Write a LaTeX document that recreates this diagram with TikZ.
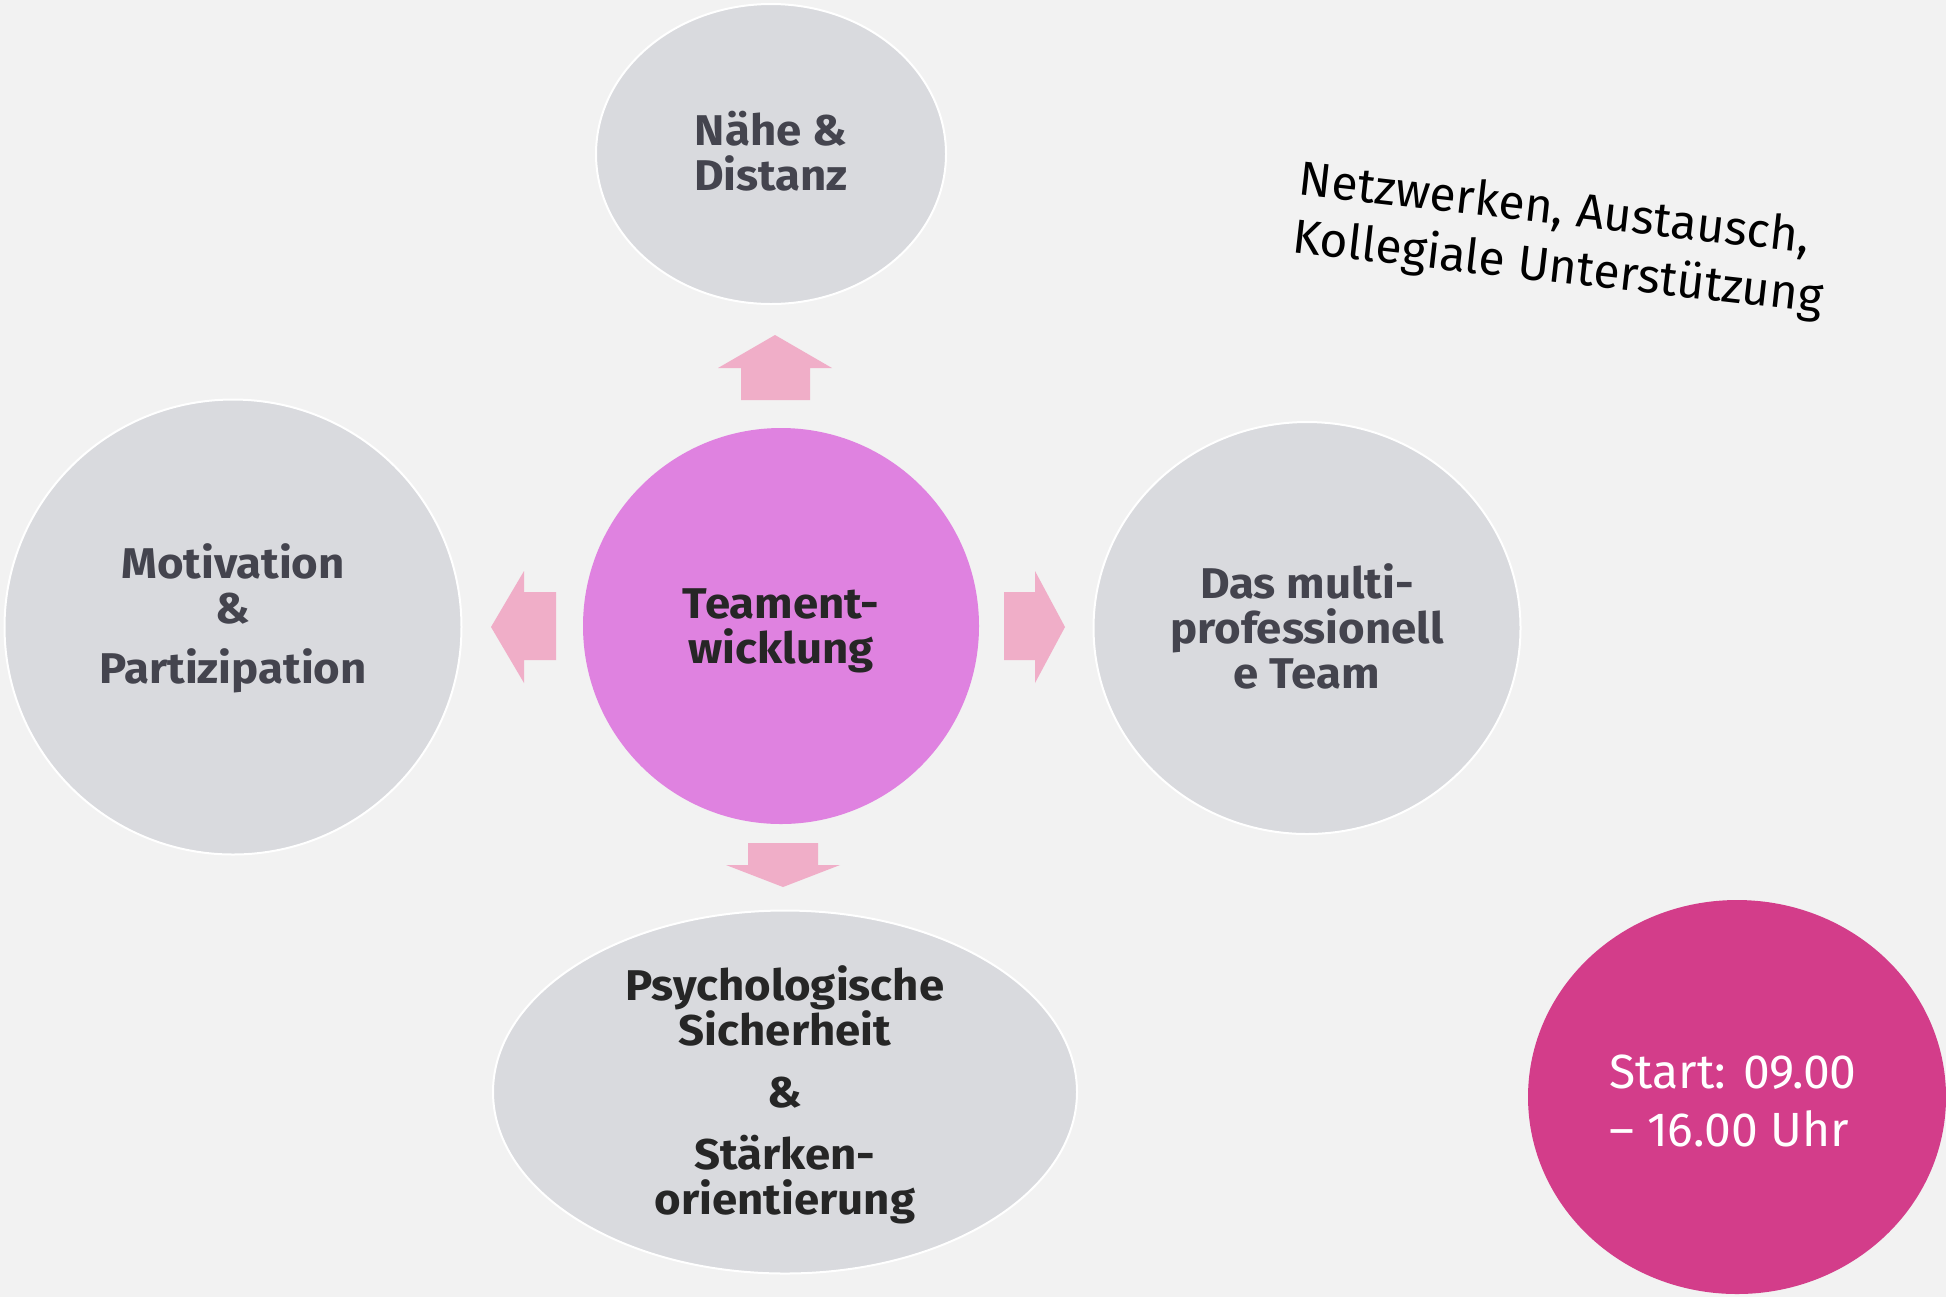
\documentclass[tikz,border=0pt]{standalone}
\usepackage{fontspec}
\setmainfont{Fira Sans}[BoldFeatures={FakeStretch=1.06}]
\usetikzlibrary{shapes.geometric}
\definecolor{bgc}{HTML}{F2F2F2}
\definecolor{bubc}{HTML}{D9DADE}
\definecolor{midc}{HTML}{DF82E0}
\definecolor{arrc}{HTML}{F0AEC8}
\definecolor{startc}{HTML}{D33D8A}
\definecolor{txtgray}{HTML}{44444E}
\definecolor{txtdark}{HTML}{262626}
\tikzset{
  bub/.style={ellipse, fill=bubc, draw=white, line width=1pt, inner sep=0pt},
  midbub/.style={ellipse, fill=midc, inner sep=0pt},
  startbub/.style={ellipse, fill=startc, inner sep=0pt},
  btxt/.style={align=center, inner sep=0pt, font=\fontsize{21.5}{22.5}\selectfont\bfseries},
  rtxt/.style={inner sep=0pt, font=\fontsize{24}{29}\selectfont},
  blockarrow/.style={fill=arrc}
}
\begin{document}
\begin{tikzpicture}[x=0.5pt,y=-0.5pt]
\path[use as bounding box, fill=bgc] (0,0) rectangle (1946,1297);
% bubbles
\node[bub, minimum width=175pt, minimum height=150pt] (top) at (771,154) {};
\node[btxt, text=txtgray] (toptxt) at (771,151) {Nähe \&\\Distanz};
\node[midbub, minimum width=198pt, minimum height=198pt] (mid) at (781,626) {};
\node[btxt, text=txtdark] (midtxt) at (781,631) {Teament-\\wicklung};
\node[bub, minimum width=213.5pt, minimum height=206pt] (right) at (1307,628) {};
\node[btxt, text=txtgray] (righttxt) at (1307,626) {Das multi-\\professionell\\e Team};
\node[bub, minimum width=228.5pt, minimum height=227.5pt] (left) at (233,627) {};
\node[btxt, text=txtgray] (lefttxt) at (233,618) {Motivation\\\&\\[7.5pt]Partizipation};
\node[bub, minimum width=292pt, minimum height=181.5pt] (bottom) at (785,1092) {};
\node[btxt, text=txtdark] (bottomtxt) at (785,1095) {Psychologische\\Sicherheit\\[8.5pt]\&\\[8.5pt]Stärken-\\orientierung};
\node[startbub, minimum width=209pt, minimum height=197pt] (start) at (1737,1097) {};
\node[rtxt, text=white, align=left] (starttxt) at (1733,1101) {Start: 09.00\\– 16.00 Uhr};
\node[rtxt, text=black, align=left, rotate=-6.5] (note) at (1561,241) {Netzwerken, Austausch,\\Kollegiale Unterstützung};
% block arrows
\fill[blockarrow] (741,400) -- (741,368) -- (718,368) -- (775,335) -- (832,368) -- (810,368) -- (810,400) -- cycle;
\fill[blockarrow] (556,592) -- (524,592) -- (524,571) -- (491,627) -- (524,683) -- (524,660) -- (556,660) -- cycle;
\fill[blockarrow] (1004,592) -- (1035,592) -- (1035,571) -- (1065,627) -- (1035,683) -- (1035,660) -- (1004,660) -- cycle;
\fill[blockarrow] (748,843) -- (818,843) -- (818,865) -- (840,865) -- (783,887) -- (726,865) -- (748,865) -- cycle;
\end{tikzpicture}
\end{document}
